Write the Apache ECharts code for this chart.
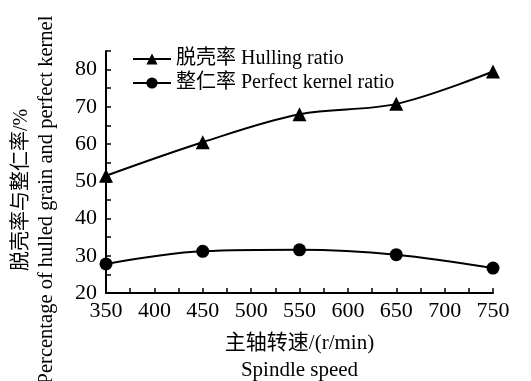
<!DOCTYPE html>
<html><head><meta charset="utf-8">
<script src="https://cdn.jsdelivr.net/npm/echarts@6/dist/echarts.min.js"></script>
<style>html,body{margin:0;padding:0;background:#fff;}#c{width:531px;height:381px;}</style>
</head><body><div id="c"></div>
<script>
const speeds = [350, 450, 550, 650, 750];
const hullingRatio = [51.5, 60.5, 68, 70.8, 79.5];
const perfectKernel = [27.8, 31.2, 31.6, 30.3, 26.7];
const hullingName = '脱壳率 Hulling ratio';
const kernelName = '整仁率 Perfect kernel ratio';
const xName = '主轴转速/(r/min)\nSpindle speed';
const yNameCn = '脱壳率与整仁率/%';
const yNameEn = 'Percentage of hulled grain and perfect kernel';

const FONT = '"Liberation Serif", "Noto Sans CJK SC", serif';
const chart = echarts.init(document.getElementById('c'));
chart.setOption({
  backgroundColor: '#fff',
  animation: false,
  textStyle: { fontFamily: FONT, color: '#000' },
  grid: { left: 106, right: 38, top: 51, bottom: 88, containLabel: false, outerBoundsMode: 'none' },
  legend: {
    orient: 'vertical', left: 127, top: 44, itemGap: 4,
    itemWidth: 38, itemHeight: 14,
    textStyle: { fontFamily: FONT, fontSize: 20, color: '#000' },
    data: [hullingName, kernelName]
  },
  graphic: [
    { type: 'text', x: 22, y: 190, rotation: Math.PI / 2,
      style: { text: yNameCn, font: '20px ' + FONT, fill: '#000', align: 'center', verticalAlign: 'middle' } },
    { type: 'text', x: 47, y: 200, rotation: Math.PI / 2,
      style: { text: yNameEn, font: '20.5px ' + FONT, fill: '#000', align: 'center', verticalAlign: 'middle' } }
  ],
  xAxis: {
    type: 'value', min: 350, max: 750, interval: 25,
    name: xName, nameLocation: 'middle', nameGap: 37,
    nameTextStyle: { fontFamily: FONT, fontSize: 21, color: '#000', lineHeight: 27, verticalAlign: 'top' },
    axisLine: { lineStyle: { color: '#000', width: 2 } },
    axisTick: { inside: true, length: 5, lineStyle: { color: '#000', width: 1.5 } },
    axisLabel: { fontFamily: FONT, fontSize: 22, color: '#000', margin: 7,
      formatter: v => (v % 50 === 0 ? String(v) : '') },
    splitLine: { show: false }
  },
  yAxis: {
    type: 'value', min: 20, max: 85, interval: 5,
    axisLine: { lineStyle: { color: '#000', width: 2 } },
    axisTick: { inside: true, length: 5, lineStyle: { color: '#000', width: 1.5 } },
    axisLabel: { fontFamily: FONT, fontSize: 22, color: '#000', margin: 9,
      formatter: v => (v % 10 === 0 && v <= 80 ? String(v) : '') },
    splitLine: { show: false }
  },
  series: [
    { name: hullingName, type: 'line', smooth: 0.35,
      data: speeds.map((s, i) => [s, hullingRatio[i]]),
      symbol: 'triangle', symbolSize: 14,
      lineStyle: { color: '#000', width: 2 }, itemStyle: { color: '#000' } },
    { name: kernelName, type: 'line', smooth: 0.35,
      data: speeds.map((s, i) => [s, perfectKernel[i]]),
      symbol: 'circle', symbolSize: 13,
      lineStyle: { color: '#000', width: 2 }, itemStyle: { color: '#000' } }
  ]
});
</script></body></html>
